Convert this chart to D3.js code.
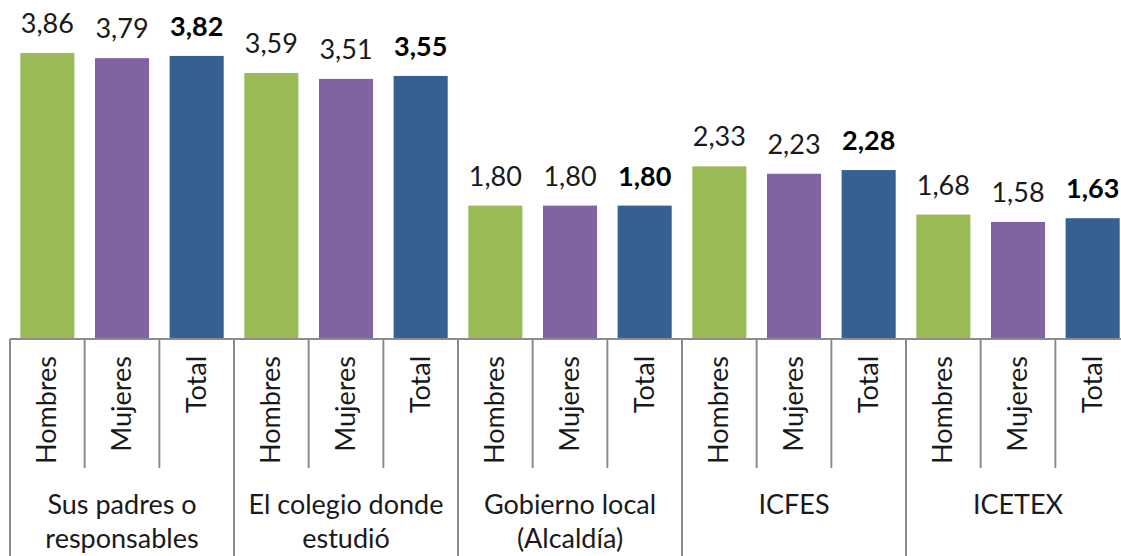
<!DOCTYPE html>
<html>
<head>
	<meta charset="utf-8">
	<title>d3.js Visualization</title>
	<script src="https://d3js.org/d3.v7.min.js"></script>
	<style>
		body { margin: 0; background: #fff; }
		text { font-family: Lato, "Noto Sans", sans-serif; }
	</style>
</head>
<body>
	<script>

		var groups = ["Sus padres o|responsables", "El colegio donde|estudió", "Gobierno local|(Alcaldía)", "ICFES", "ICETEX"];
		var series = ["Hombres", "Mujeres", "Total"];
		var hombres = [3.86, 3.59, 1.80, 2.33, 1.68];
		var mujeres = [3.79, 3.51, 1.80, 2.23, 1.58];
		var total = [3.82, 3.55, 1.80, 2.28, 1.63];

		var colors = ["#9bbb59", "#8064a2", "#365f92"];
		var values = [hombres, mujeres, total];

		var width = 1121, height = 556;
		var base = 339;

		var svg = d3.select("body").append("svg")
			.attr("width", width)
			.attr("height", height);

		var x0 = d3.scaleBand()
			.domain(groups)
			.range([10, 1130]);

		var x1 = d3.scaleBand()
			.domain(series)
			.range([0, x0.bandwidth()])
			.paddingInner(0.276)
			.paddingOuter(0.138);

		var slot = x0.bandwidth() / series.length;

		var y = d3.scaleLinear()
			.domain([0, 4.5])
			.range([base, base - 4.5 * 74.1]);

		var fmt = function (v) { return d3.format(".2f")(v).replace(".", ","); };

		var data = [];
		groups.forEach(function (g, i) {
			series.forEach(function (s, j) {
				data.push({ g: g, s: s, j: j, v: values[j][i] });
			});
		});

		// bars
		svg.selectAll(".bar")
			.data(data)
			.enter()
			.append("rect")
			.attr("class", "bar")
			.attr("x", function (d) { return x0(d.g) + x1(d.s); })
			.attr("y", function (d) { return y(d.v); })
			.attr("width", x1.bandwidth())
			.attr("height", function (d) { return base - y(d.v); })
			.attr("fill", function (d) { return colors[d.j]; });

		// value labels
		svg.selectAll(".val")
			.data(data)
			.enter()
			.append("text")
			.attr("class", "val")
			.attr("x", function (d) { return x0(d.g) + x1(d.s) + x1.bandwidth() / 2; })
			.attr("y", function (d) { return y(d.v) - 20; })
			.attr("text-anchor", "middle")
			.attr("font-size", 27)
			.attr("font-weight", function (d) { return d.s === "Total" ? "bold" : "normal"; })
			.attr("fill", function (d) { return d.s === "Total" ? "#000" : "#1a1a1a"; })
			.text(function (d) { return fmt(d.v); });

		// axis
		var axis = svg.append("g").attr("stroke", "#8c8c8c").attr("stroke-width", 2);

		axis.append("line")
			.attr("x1", 10).attr("x2", width)
			.attr("y1", base).attr("y2", base);

		groups.forEach(function (g) {
			axis.append("line")
				.attr("x1", x0(g)).attr("x2", x0(g))
				.attr("y1", base).attr("y2", height);
			for (var k = 1; k < series.length; k++) {
				axis.append("line")
					.attr("x1", x0(g) + k * slot).attr("x2", x0(g) + k * slot)
					.attr("y1", base).attr("y2", 468);
			}
		});

		// series labels (rotated)
		svg.selectAll(".sub")
			.data(data)
			.enter()
			.append("text")
			.attr("class", "sub")
			.attr("transform", function (d) {
				return "translate(" + (x0(d.g) + x1(d.s) + x1.bandwidth() / 2 + 9) + "," + 356 + ") rotate(-90)";
			})
			.attr("text-anchor", "end")
			.attr("font-size", 27)
			.attr("fill", "#1a1a1a")
			.text(function (d) { return d.s; });

		// group labels
		var gl = svg.selectAll(".grp")
			.data(groups)
			.enter()
			.append("text")
			.attr("class", "grp")
			.attr("x", function (d) { return x0(d) + x0.bandwidth() / 2; })
			.attr("y", 514)
			.attr("text-anchor", "middle")
			.attr("font-size", 27)
			.attr("fill", "#1a1a1a");

		gl.selectAll("tspan")
			.data(function (d) { return d.split("|").map(function (t) { return { t: t, g: d }; }); })
			.enter()
			.append("tspan")
			.attr("x", function (d) { return x0(d.g) + x0.bandwidth() / 2; })
			.attr("dy", function (d, i) { return i === 0 ? 0 : 34; })
			.text(function (d) { return d.t; });

	</script>
</body>
</html>
